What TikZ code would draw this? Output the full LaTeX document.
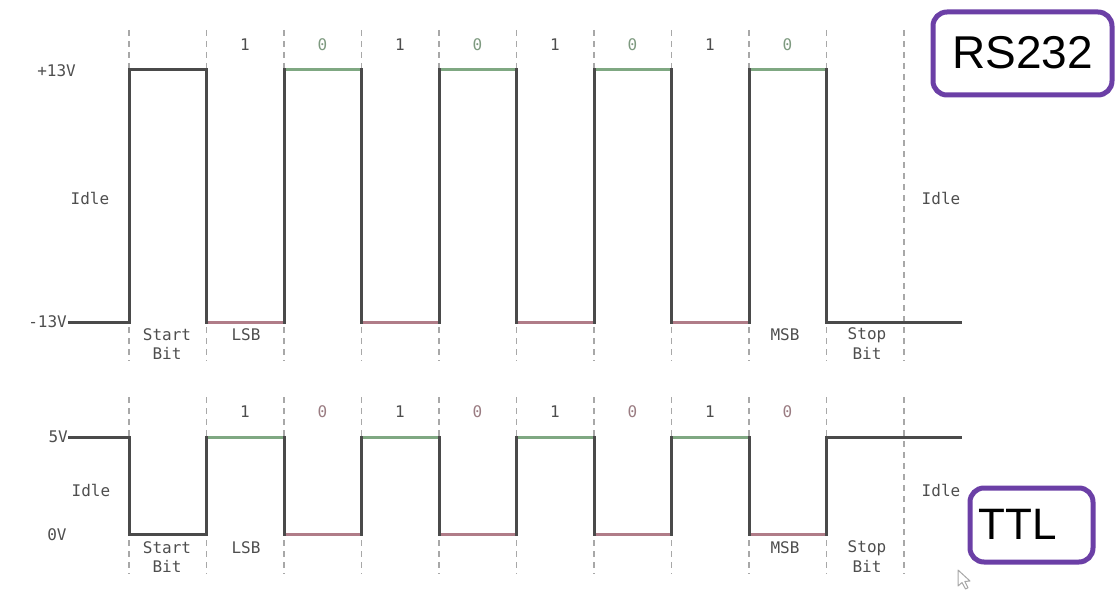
\documentclass[tikz,border=0pt]{standalone}
\usepackage{fontspec}
\newfontfamily\monof{DejaVu Sans Mono}
\newfontfamily\sansf{Liberation Sans}
\definecolor{wave}{HTML}{4A4A4A}
\definecolor{wgreen}{HTML}{7FA882}
\definecolor{wred}{HTML}{B07C88}
\definecolor{grid}{HTML}{A8A8A8}
\definecolor{lbl}{HTML}{4E4E4E}
\definecolor{lgreen}{HTML}{7E9A80}
\definecolor{lred}{HTML}{9A7C82}
\definecolor{boxpurple}{HTML}{6B3FA6}
\tikzset{
  gridline/.style={draw=grid, line width=1.8pt, dash pattern=on 6pt off 5pt},
  waveline/.style={draw=wave, line width=3pt, line join=miter},
  hiseg/.style={draw=wgreen, line width=3pt},
  loseg/.style={draw=wred, line width=3pt},
  txt/.style={font=\monof\fontsize{16}{18}\selectfont, text=lbl, inner sep=0pt},
  bitone/.style={txt},
  bitzero/.style={txt},
  tagbox/.style={draw=boxpurple, line width=5pt, rounded corners=14pt, inner sep=0pt},
}
\begin{document}
\begin{tikzpicture}[x=1pt,y=-1pt]
\useasboundingbox (0,0) rectangle (1117,594);
% bit boundaries
\foreach \i in {0,...,10} {
  \pgfmathsetmacro{\xx}{129+77.5*\i}
  \coordinate (t\i) at (\xx,30);
  \coordinate (u\i) at (\xx,361);
  \coordinate (v\i) at (\xx,397);
  \coordinate (w\i) at (\xx,574);
  \draw[gridline] (t\i) -- (u\i);
  \draw[gridline] (v\i) -- (w\i);
}
% ---------- RS232 waveform ----------
\coordinate (ts) at (68,322);
\coordinate (te) at (962,322);
\draw[waveline] (ts) -- (129,322) -- (129,70) -- (206.5,70) -- (206.5,322) -- (284,322)
  -- (284,70) -- (361.5,70) -- (361.5,322) -- (439,322) -- (439,70) -- (516.5,70)
  -- (516.5,322) -- (594,322) -- (594,70) -- (671.5,70) -- (671.5,322) -- (749,322)
  -- (749,70) -- (826.5,70) -- (826.5,322) -- (te);
\foreach \a/\b in {284/361.5,439/516.5,594/671.5,749/826.5}
  \draw[hiseg] (\a+1.5,70) -- (\b-1.5,70);
\foreach \a/\b in {206.5/284,361.5/439,516.5/594,671.5/749}
  \draw[loseg] (\a+1.5,322) -- (\b-1.5,322);
% ---------- TTL waveform ----------
\coordinate (bs) at (68,437);
\coordinate (be) at (962,437);
\draw[waveline] (bs) -- (129,437) -- (129,534) -- (206.5,534) -- (206.5,437) -- (284,437)
  -- (284,534) -- (361.5,534) -- (361.5,437) -- (439,437) -- (439,534) -- (516.5,534)
  -- (516.5,437) -- (594,437) -- (594,534) -- (671.5,534) -- (671.5,437) -- (749,437)
  -- (749,534) -- (826.5,534) -- (826.5,437) -- (be);
\foreach \a/\b in {206.5/284,361.5/439,516.5/594,671.5/749}
  \draw[hiseg] (\a+1.5,437) -- (\b-1.5,437);
\foreach \a/\b in {284/361.5,439/516.5,594/671.5,749/826.5}
  \draw[loseg] (\a+1.5,534) -- (\b-1.5,534);
% ---------- bit labels ----------
\foreach \k/\x in {1/245,2/400,3/555,4/710} {
  \node[bitone] (top1\k) at (\x,45) {1};
  \node[bitzero, text=lgreen] (top0\k) at (\x+77.5,45) {0};
  \node[bitone, text=lbl] (bot1\k) at (\x,412) {1};
  \node[bitzero, text=lred] (bot0\k) at (\x+77.5,412) {0};
}
% ---------- level and field labels, top ----------
\node[txt, anchor=east] (p13) at (76,71) {+13V};
\node[txt, anchor=east] (m13) at (67,322) {-13V};
\node[txt] (idlTL) at (90,198) {Idle};
\node[txt] (idlTR) at (941,198) {Idle};
\node[txt] (stT) at (167,335) {Start};
\node[txt] (sbT) at (167,353) {Bit};
\node[txt] (lsbT) at (246,335) {LSB};
\node[txt] (msbT) at (785,335) {MSB};
\node[txt] (spT) at (867,335) {Stop};
\node[txt] (spbT) at (867,353) {Bit};
% ---------- level and field labels, bottom ----------
\node[txt, anchor=east] (v5) at (68,437) {5V};
\node[txt] (idlBL) at (91,490) {Idle};
\node[txt] (v0) at (57,535) {0V};
\node[txt] (stB) at (167,548) {Start};
\node[txt] (sbB) at (167,566) {Bit};
\node[txt] (lsbB) at (246,548) {LSB};
\node[txt] (msbB) at (785,548) {MSB};
\node[txt] (spB) at (867,548) {Stop};
\node[txt] (spbB) at (867,566) {Bit};
\node[txt] (idlBR) at (941,490) {Idle};
% ---------- tag boxes ----------
\draw[tagbox] (933,12) rectangle (1112,95);
\node[inner sep=0pt, font=\sansf\fontsize{46}{50}\selectfont] (rs) at (1022.5,53) {RS232};
\draw[tagbox] (970,488) rectangle (1093,562);
\node[inner sep=0pt, font=\sansf\fontsize{44}{48}\selectfont] (ttl) at (1018,524) {TTL};
% ---------- mouse pointer ----------
\draw[draw=gray!70, line width=1pt, fill=white, line join=round]
  (958,570) -- (958,586) -- (962,582.5) -- (965.5,589) -- (968,587.8) -- (964.8,581.5) -- (970,581) -- cycle;
\end{tikzpicture}
\end{document}
